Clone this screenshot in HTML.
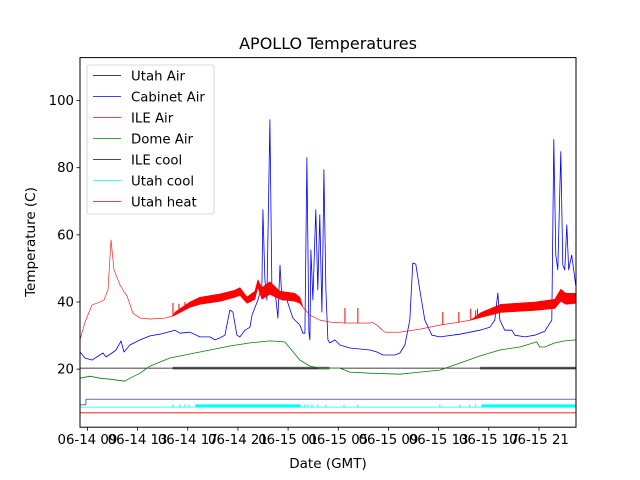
<!DOCTYPE html>
<html><head><meta charset="utf-8"><style>
body{margin:0;background:#fff;}
svg{display:block;font-family:"DejaVu Sans","Liberation Sans",sans-serif;}
</style></head><body>
<svg id="chart" width="640" height="480">
<rect width="640" height="480" fill="#fff"/>
<text x="328" y="49" font-size="16" text-anchor="middle">APOLLO Temperatures</text>
<text x="328" y="468" font-size="13.5" text-anchor="middle">Date (GMT)</text>
<text transform="translate(35,242) rotate(-90)" font-size="13.5" text-anchor="middle">Temperature (C)</text>
<g id="plot"></g>
<g id="axes"></g>
</svg>
<script>
const xMin=8.41, xMax=47.95, yMin=2.7, yMax=112.8;
const L=80,R=576,T=57.6,B=427.2;
function X(t){return L+(t-xMin)/(xMax-xMin)*(R-L);}
function Y(v){return B-(v-yMin)/(yMax-yMin)*(B-T);}

const yTicks=[20,40,60,80,100];
const xTickHours=[9,13,17,21,25,29,33,37,41,45];
const xTickLabels=["06-14 09","06-14 13","06-14 17","06-14 21","06-15 01","06-15 05","06-15 09","06-15 13","06-15 17","06-15 21"];

// Cabinet Air (blue)
const cabT=[8.41,8.81,9.37,10.0,10.24,10.48,10.96,11.28,11.6,11.68,11.92,12.39,13.19,13.99,14.78,15.98,16.38,17.17,17.97,18.77,19.17,19.57,19.96,20.36,20.6,20.92,21.16,21.56,21.96,22.12,22.59,22.91,22.99,23.15,23.31,23.55,23.71,23.95,24.19,24.35,24.51,24.9,25.38,25.94,26.18,26.34,26.5,26.66,26.74,26.82,26.98,27.13,27.21,27.37,27.53,27.69,27.77,27.85,28.01,28.17,28.33,28.73,29.13,29.92,31.52,32.08,32.55,33.51,33.91,34.31,34.7,34.94,35.18,35.5,35.9,36.46,37.1,38.69,40.28,41.08,41.48,41.72,41.88,42.27,42.83,43.07,43.87,44.66,45.46,46.02,46.18,46.34,46.5,46.74,46.9,47.06,47.22,47.37,47.61,47.93];
const cabV=[25.1,23.3,22.7,24.2,24.8,23.6,24.8,25.7,27.8,28.4,25.1,27.2,28.7,29.9,30.4,31.6,30.7,31.0,29.6,29.6,28.7,29.3,30.1,37.6,37.0,30.1,29.6,31.6,32.5,36.1,40.6,45,67.5,46.6,40.6,94.3,43.6,43.6,35.2,51.0,40.6,40.6,35.2,33.1,30.7,30.7,83.0,31.0,28.7,55.5,40.6,58.5,67.5,43.6,66,37,55.5,79.4,43.6,28.7,27.8,28.7,27.2,26.3,25.7,25.1,24.2,24.2,24.8,27.2,34.6,51.6,51.3,43.6,34.6,30.1,29.6,30.4,31.6,32.5,34.6,42.7,34.6,31.6,31.6,30.1,29.6,30.1,31.3,34.6,88.4,54.0,49.6,84.8,51,49.6,63.0,49.6,54,45];

// ILE Air (red, noisy band lo/hi)
const ileT=[8.41,8.81,9.37,10.0,10.32,10.64,10.88,11.12,11.6,11.92,12.16,12.63,13.19,13.99,15.18,15.82,15.98,17.17,17.97,19.57,20.76,21.16,21.72,22.35,22.59,22.91,23.55,24.35,25.54,25.94,26.18,26.74,27.53,28.33,29.53,31.52,31.68,32.08,32.71,33.91,35.5,37.1,38.69,39.56,40.36,41.96,44.66,46.26,46.74,47.13,47.93];
const ileLo=[28.7,34,39.1,40.0,40.6,43.6,58.5,49.6,45.1,43.0,41.8,36.7,35.2,34.9,35.2,35.8,36.1,38.4,39.3,40.2,41.4,42.0,39.6,40.8,44.4,40.8,42.3,40.8,40.2,39.6,38.5,36.1,34.6,34.0,33.7,33.7,34.0,33.1,31.0,31.0,31.9,33.1,34.0,34.6,35.4,36.9,37.5,38.1,40.2,39.3,39.6];
const ileHi=[28.7,34,39.1,40.0,40.6,43.6,58.5,49.6,45.1,43.0,41.8,36.7,35.2,34.9,35.2,35.8,37.0,40.0,41.4,42.4,43.5,44.3,41.5,43.2,46.6,44.3,46.0,43.2,42.6,41.4,38.5,36.1,34.6,34.0,33.7,33.7,34.0,33.1,31.0,31.0,31.9,33.1,34.0,34.6,36.8,39.3,40.0,40.8,43.8,42.6,42.6];
const ileSpikeT=[15.82,16.3,16.78,26.26,29.53,30.56,37.33,38.61,39.56,39.95,40.1];
const ileSpikeV=[39.7,39.5,40,38,38.2,38.2,37.0,37.0,38,37.5,38];

// Dome Air (green)
const domeT=[8.41,9.21,10.0,10.8,11.99,12.39,13.19,13.99,14.78,15.58,17.17,18.77,20.36,21.96,23.55,24.74,25.14,25.94,26.74,27.53,29.13,29.92,31.52,33.91,35.5,37.1,38.69,40.28,41.88,43.47,44.82,45.06,45.46,46.26,47.06,47.93];
const domeV=[17.3,17.9,17.3,17.0,16.4,17.3,18.8,20.9,22.1,23.3,24.5,25.7,26.9,27.8,28.4,28.1,26.3,22.7,20.9,20.3,20.3,19.1,18.8,18.5,19.1,19.7,21.8,23.9,25.7,26.6,28.1,26.6,26.6,27.8,28.4,28.7];

// Utah Air (black) base and noisy ranges
const utahAirT=[8.41,47.93];
const utahAirV=[20.3,20.3];
const utahAirNoiseStart=[15.8,40.3];
const utahAirNoiseEnd=[28.3,47.93];

// ILE cool (navy)
const ileCoolT=[8.41,8.88,8.88,47.93];
const ileCoolV=[9.4,9.4,11.0,11.0];

// Utah cool (cyan) baseline + on periods
const utahCoolV=8.7;
const utahCoolOnV=9.5;
const utahCoolBandStart=[17.6,40.4];
const utahCoolBandEnd=[26.0,47.93];
const utahCoolPulseT=[15.82,16.38,16.78,17.1,26.34,26.58,26.9,27.37,28.01,29.45,30.56,37.1,38.69,39.48,39.95];

// Utah heat (red)
const utahHeatV=7.0;

const NS="http://www.w3.org/2000/svg";
const plot=document.getElementById('plot');
const axes=document.getElementById('axes');
function mk(tag,attrs,parent){const e=document.createElementNS(NS,tag);for(const k in attrs)e.setAttribute(k,attrs[k]);parent.appendChild(e);return e;}

const clip=mk('clipPath',{id:'pc'},plot);
mk('rect',{x:L,y:T,width:R-L,height:B-T},clip);
const g=mk('g',{'clip-path':'url(#pc)'},plot);

function line(ts,vs,color,w,name){
  const p=mk('polyline',{points:ts.map((t,i)=>X(t).toFixed(1)+','+Y(vs[i]).toFixed(1)).join(' '),fill:'none',stroke:color,'stroke-width':w,'stroke-linejoin':'round'},g);
  
  
  return p;
}

line([xMin,xMax],[utahHeatV,utahHeatV],'#ff0000',0.8,'utah-heat-line');
line([xMin,xMax],[utahCoolV,utahCoolV],'#00ffff',0.8,'utah-cool-line');
utahCoolBandStart.forEach((s,i)=>{
  const r=mk('rect',{x:X(s),y:Y(utahCoolOnV),width:X(utahCoolBandEnd[i])-X(s),height:Y(utahCoolV)-Y(utahCoolOnV)+0.5,fill:'#00ffff'},g);
  
  
});
utahCoolPulseT.forEach(t=>{
  const l=mk('line',{x1:X(t),x2:X(t),y1:Y(utahCoolOnV),y2:Y(utahCoolV),stroke:'#00ffff','stroke-width':1},g);
  
  
});
line(ileCoolT,ileCoolV,'#6a6aa8',1,'ile-cool-line');
line(utahAirT,utahAirV,'#000000',0.8,'utah-air-line');
utahAirNoiseStart.forEach((s,i)=>{
  const r=mk('rect',{x:X(s),y:Y(20.7),width:X(utahAirNoiseEnd[i])-X(s),height:Y(19.9)-Y(20.7),fill:'#000',opacity:0.55},g);
  
  
});
line(domeT,domeV,'#008000',0.8,'dome-air-line');
line(cabT,cabV,'#0000ff',0.8,'cabinet-air-line');
const pts=ileT.map((t,i)=>X(t).toFixed(1)+','+Y(ileHi[i]).toFixed(1)).concat(ileT.slice().reverse().map((t,j)=>{const i=ileT.length-1-j;return X(t).toFixed(1)+','+Y(ileLo[i]).toFixed(1);}));
const band=mk('polygon',{points:pts.join(' '),fill:'#ff0000',stroke:'#ff0000','stroke-width':0.6,'stroke-linejoin':'round'},g);


ileSpikeT.forEach((t,i)=>{
  let j=0;while(j<ileT.length-2&&ileT[j+1]<t)j++;
  const f=(t-ileT[j])/(ileT[j+1]-ileT[j]);const base=ileLo[j]+f*(ileLo[j+1]-ileLo[j]);
  const l=mk('line',{x1:X(t),x2:X(t),y1:Y(base),y2:Y(ileSpikeV[i]),stroke:'#ff0000','stroke-width':1},g);
  
  
});

const fr=mk('rect',{x:L,y:T,width:R-L,height:B-T,fill:'none',stroke:'#000','stroke-width':1},axes);


yTicks.forEach(v=>{
  const tl=mk('line',{x1:L-3.5,x2:L,y1:Y(v),y2:Y(v),stroke:'#000','stroke-width':0.8},axes);
  
  
  const tx=mk('text',{x:L-6,y:Y(v)+4.5,'font-size':13.3,'text-anchor':'end'},axes);
  tx.textContent=v;
  
  
});
xTickHours.forEach((h,i)=>{
  const tl=mk('line',{x1:X(h),x2:X(h),y1:B,y2:B+3.5,stroke:'#000','stroke-width':0.8},axes);
  
  
  const tx=mk('text',{x:X(h),y:B+17,'font-size':13.3,'text-anchor':'middle'},axes);
  tx.textContent=xTickLabels[i];
  
  
});

const legNames=["Utah Air","Cabinet Air","ILE Air","Dome Air","ILE cool","Utah cool","Utah heat"];
const legColors=["#000000","#0000ff","#ff0000","#008000","#00008b","#00ffff","#ff0000"];
const lg=mk('g',{},axes);


mk('rect',{x:87,y:65,width:127,height:149,rx:2,fill:'#fff','fill-opacity':0.85,stroke:'#ccc','stroke-width':0.8},lg);
legNames.forEach((n,i)=>{
  const y=75.5+i*21;
  const e=mk('g',{},lg);
  
  
  mk('line',{x1:93,x2:121,y1:y,y2:y,stroke:legColors[i],'stroke-width':0.8},e);
  const t=mk('text',{x:131,y:y+4.8,'font-size':13.3},e);
  t.textContent=n;
});
</script>
</body></html>
